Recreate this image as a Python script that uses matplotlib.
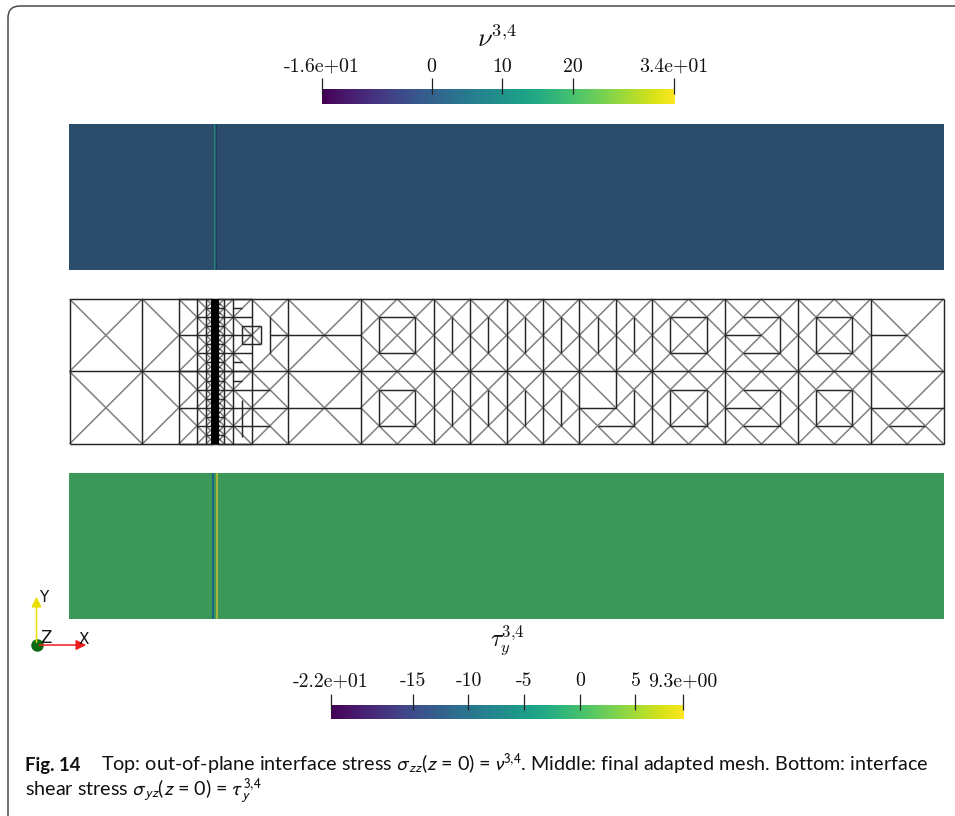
import numpy as np
import matplotlib
matplotlib.use("Agg")
import matplotlib.pyplot as plt
from matplotlib.collections import LineCollection
from matplotlib.patches import FancyBboxPatch

W, H = 955, 816

# colour bars
nu_range = [-15.5, 34.3]
nu_ticks = [-15.5, 0, 10, 20, 34.3]
nu_labels = ["-1.6e+01", "0", "10", "20", "3.4e+01"]
tau_range = [-22.35, 9.27]
tau_ticks = [-22.35, -15, -10, -5, 0, 5, 9.27]
tau_labels = ["-2.2e+01", "-15", "-10", "-5", "0", "5", "9.3e+00"]

# mesh, domain is 12 x 2, blocks are given by their lower left corner
x_blocks = [(0, 0), (0, 1)]
square_blocks = [(4, 0), (4, 1), (8, 0), (8, 1), (10, 0), (10, 1)]
arrow_blocks = [(9, 0), (9, 1)]
split_cols = [(5, 0), (5.5, 0), (6, 0), (6.5, 0), (5, 1), (5.5, 1), (6, 1), (6.5, 1),
              (7, 1), (7.5, 1), (7.5, 0)]
# x0, x1, spacing of the left nodes
left_grading = [(1.0, 1.5, 1.0), (1.5, 1.75, 0.5), (1.75, 1.875, 0.25),
                (1.875, 1.9375, 0.125), (1.9375, 1.97, 0.0625)]
right_grading = [(2.03, 2.0625, 0.0625), (2.0625, 2.125, 0.125),
                 (2.125, 2.25, 0.25), (2.25, 2.5, 0.5)]
grid_x = [0, 1, 1.5, 1.75, 1.875, 2.125, 2.25, 2.5, 3, 4, 5, 5.5, 6, 6.5, 7, 8, 9, 10, 11, 12]
# short edges right of the interface: y, x end
short_right = [(1.875, 2.375), (1.75, 2.5), (1.25, 2.5), (1.125, 2.375), (0.875, 2.375),
               (0.75, 2.75), (0.25, 2.75)]
band = [1.945, 2.055]

caption_1 = "Top: out-of-plane interface stress $\\sigma_{zz}$($z$ = 0) = $\\nu^{3{,}4}$. Middle: final adapted mesh. Bottom: interface"
caption_2 = "shear stress $\\sigma_{yz}$($z$ = 0) = $\\tau_y^{\\,3{,}4}$"


def px_axes(fig, x0, y0, x1, y1):
    return fig.add_axes([x0 / W, 1 - y1 / H, (x1 - x0) / W, (y1 - y0) / H])


def square_x(x, y, w, h):
    return [[(x, y), (x + w, y + h)], [(x, y + h), (x + w, y)]]


def mesh_segments():
    diag, orth = [], []
    for x in grid_x:
        orth.append([(x, 0), (x, 2)])
    orth += [[(7.5, 1), (7.5, 2)]]
    orth += [[(0, 0), (12, 0)], [(0, 1), (12, 1)], [(0, 2), (12, 2)]]

    for x, y in x_blocks:
        diag += square_x(x, y, 1, 1)
    for x, y in square_blocks:
        diag += square_x(x, y, 1, 1)
        diag += [[(x, y + .5), (x + .5, y + 1)], [(x + .5, y + 1), (x + 1, y + .5)],
                 [(x + 1, y + .5), (x + .5, y)], [(x + .5, y), (x, y + .5)]]
        orth += [[(x + .25, y + .25), (x + .75, y + .25)], [(x + .75, y + .25), (x + .75, y + .75)],
                 [(x + .75, y + .75), (x + .25, y + .75)], [(x + .25, y + .75), (x + .25, y + .25)]]
    for x, y in arrow_blocks:
        diag += square_x(x, y, 1, 1)
        diag += [[(x, y + .5), (x + .5, y + 1)], [(x + .5, y + 1), (x + 1, y + .5)],
                 [(x + 1, y + .5), (x + .5, y)], [(x + .5, y), (x, y + .5)]]
        orth += [[(x + .25, y + .25), (x + .75, y + .25)], [(x + .75, y + .25), (x + .75, y + .75)],
                 [(x + .75, y + .75), (x + .25, y + .75)], [(x, y + .5), (x + .5, y + .5)]]
    for x, y in split_cols:
        diag += square_x(x, y, .5, .5) + square_x(x, y + .5, .5, .5)
        orth.append([(x + .25, y + .25), (x + .25, y + .75)])

    # blocks that did not follow a pattern
    diag += [[(7, 1), (7.5, .5)]] + square_x(7, 0, .5, .5)
    orth += [[(7, .5), (7.5, .5)], [(7.5, .5), (7.5, 1)], [(7.25, .25), (7.75, .25)]]
    diag += square_x(3, 0, 1, 1) + square_x(3, 1, 1, 1)
    orth += [[(2.75, 1.5), (4, 1.5)], [(2.5, .5), (4, .5)]]
    diag += square_x(11, 1, 1, 1)
    orth.append([(11, 1.5), (11.5, 1.5)])
    diag += [[(11, 1), (11.5, .5)], [(11.5, .5), (12, 1)]]
    diag += square_x(11, 0, .5, .5) + square_x(11.5, 0, .5, .5)
    orth += [[(11, .5), (12, .5)], [(11.25, .25), (11.75, .25)]]

    # graded columns each side of the interface
    for x0, x1, dy in left_grading:
        for y in np.arange(0, 2 + dy / 2, dy):
            if dy < 1:
                orth.append([(x0, y), (x1, y)])
            if y > 0:
                diag.append([(x0, y), (x1, y - dy / 2)])
            if y < 2:
                diag.append([(x0, y), (x1, y + dy / 2)])
    for x0, x1, dy in right_grading:
        for y in np.arange(0, 2 + dy / 2, dy):
            orth.append([(x0, y), (x1, y)])
            if y > 0:
                diag.append([(x1, y), (x0, y - dy / 2)])
            if y < 2:
                diag.append([(x1, y), (x0, y + dy / 2)])
    for y, x1 in short_right:
        orth.append([(2.25, y), (x1, y)])

    # the 2.25 to 3 part
    diag += [[(2.5, 2), (3, 1.5)], [(3, 1.5), (2.5, 1)], [(3, 2), (2.75, 1.75)], [(2.75, 1.25), (3, 1)],
             [(2.5, 1), (3, .5)], [(3, .5), (2.5, 0)], [(3, 1), (2.5, .5)], [(2.5, .5), (3, 0)]]
    orth += [[(2.75, 1.25), (2.75, 1.75)],
             [(2.375, 1.375), (2.625, 1.375)], [(2.625, 1.375), (2.625, 1.625)],
             [(2.625, 1.625), (2.375, 1.625)], [(2.375, 1.625), (2.375, 1.375)],
             [(2.375, .1), (2.375, .6)]]
    diag += square_x(2.375, 1.375, .25, .25)
    return diag, orth


def colorbar(fig, box, rng, ticks, labels, pad):
    ax = px_axes(fig, *box)
    grad = np.linspace(rng[0], rng[1], 256).reshape(1, -1)
    ax.imshow(grad, cmap="viridis", aspect="auto", extent=[rng[0], rng[1], 0, 1])
    ax.set_xlim(rng)
    ax.set_ylim(0, 1)
    ax.set_yticks([])
    for s in ax.spines.values():
        s.set_visible(False)
    ax.xaxis.tick_top()
    ax.set_xticks(ticks)
    ax.set_xticklabels(labels, family="cmr10", fontsize=14.3, color="#111111")
    ax.tick_params(axis="x", length=0, pad=pad)
    ax.vlines(ticks, 0.67, 1.73, color="#222222", lw=0.9, clip_on=False)
    return ax


def field_panel(fig, box, base, strips):
    ax = px_axes(fig, *box)
    ax.set_xlim(0, 12)
    ax.set_ylim(0, 2)
    ax.axis("off")
    ax.axvspan(0, 12, color=base, lw=0)
    for x0, x1, c in strips:
        ax.axvspan(x0, x1, color=c, lw=0)
    return ax


def main():
    plt.rcParams["axes.unicode_minus"] = False
    plt.rcParams["axes.formatter.use_mathtext"] = True
    fig = plt.figure(figsize=(W / 100, H / 100), dpi=100)

    bg = fig.add_axes([0, 0, 1, 1])
    bg.set_xlim(0, W)
    bg.set_ylim(H, 0)
    bg.axis("off")
    bg.add_patch(FancyBboxPatch((8, 6), 1100, 1000, boxstyle="round,pad=0,rounding_size=12",
                                fc="none", ec="#4a4a4a", lw=1.1))

    colorbar(fig, (322, 89, 674, 104), nu_range, nu_ticks, nu_labels, 9.5)
    colorbar(fig, (331, 705, 683, 719.5), tau_range, tau_ticks, tau_labels, 10.5)
    bg.text(497, 40, r"$\nu^{3{,}4}$", fontsize=19, math_fontfamily="cm", ha="center", va="center", color="#111111")
    bg.text(507, 640, r"$\tau_y^{3{,}4}$", fontsize=17, math_fontfamily="cm", ha="center", va="center", color="#111111")

    field_panel(fig, (69, 124, 944, 270), "#2b4d6b",
                [(1.985, 2.0, "#1f8a70"), (2.0, 2.015, "#235a70"), (2.015, 2.03, "#1c3a5a")])
    field_panel(fig, (69, 473, 944, 619), "#3c9858",
                [(1.965, 1.995, "#1b6585"), (1.995, 2.01, "#3c9858"), (2.01, 2.04, "#a8b53c")])

    mesh = px_axes(fig, 69.5, 299, 943.5, 444)
    mesh.set_xlim(0, 12)
    mesh.set_ylim(0, 2)
    mesh.axis("off")
    diag, orth = mesh_segments()
    mesh.add_collection(LineCollection(diag, colors="#808080", linewidths=1.1, clip_on=False))
    mesh.add_collection(LineCollection(orth, colors="#262626", linewidths=1.05, clip_on=False))
    mesh.axvspan(band[0], band[1], color="black", lw=0, zorder=3)

    # orientation triad
    bg.annotate("", xy=(36.5, 594), xytext=(36.5, 645),
                arrowprops=dict(arrowstyle="-|>", color="#e8e000", lw=1.1, mutation_scale=15))
    bg.annotate("", xy=(89, 645), xytext=(36.5, 645),
                arrowprops=dict(arrowstyle="-|>", color="#ee1c1c", lw=1.1, mutation_scale=15))
    bg.plot([36.5], [645], "o", color="#0b6a12", ms=8)
    bg.text(39.5, 598, "Y", fontsize=11, va="center", color="#111111")
    bg.text(40, 638, "Z", fontsize=12, va="center", color="#111111")
    bg.text(79, 640, "X", fontsize=11, va="center", color="#111111")

    # caption
    bg.text(25, 771, "Fig. 14", family="Lato", weight="bold", fontsize=13.4, va="baseline", color="#111111")
    bg.text(101, 771, caption_1, family="Lato", fontsize=14.2, va="baseline", math_fontfamily="stixsans", color="#111111")
    bg.text(25, 796, caption_2, family="Lato", fontsize=14.2, va="baseline", math_fontfamily="stixsans", color="#111111")

    fig.savefig("out.png", dpi=100)


if __name__ == '__main__':
    main()
